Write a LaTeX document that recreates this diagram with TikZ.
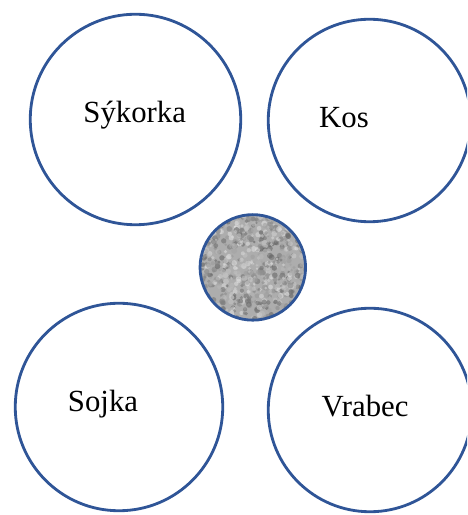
\documentclass[tikz,border=0pt]{standalone}
\usepackage{fontspec}
\setmainfont{Liberation Serif}
\definecolor{ringblue}{HTML}{2F5597}
\begin{document}
\begin{tikzpicture}[
    bird/.style={circle, draw=ringblue, line width=1.6pt, inner sep=0pt},
    birdname/.style={font=\fontsize{17.5}{20}\selectfont, anchor=base, inner sep=0pt}
]
    \useasboundingbox (0,0) rectangle (9.34,10.3);
    \clip (0,0) rectangle (9.34,10.3);

    \node[bird, minimum size=4.21cm] (sykorka) at (2.71,7.91) {};
    \node[bird, minimum size=4.05cm] (kos)     at (7.39,7.89) {};
    \node[bird, minimum size=4.15cm] (sojka)   at (2.38,2.16) {};
    \node[bird, minimum size=4.07cm] (vrabec)  at (7.40,2.10) {};

    % grainy middle disc
    \begin{scope}
        \clip (5.056,4.952) circle (1.06);
        \fill[black!32] (5.056,4.952) circle (1.06);
        \pgfmathsetseed{42}
        \foreach \i in {1,...,900}{
            \pgfmathsetmacro{\px}{5.056+2.2*(rnd-0.5)}
            \pgfmathsetmacro{\py}{4.952+2.2*(rnd-0.5)}
            \pgfmathsetmacro{\sh}{int(12+50*rnd)}
            \pgfmathsetmacro{\rr}{0.025+0.035*rnd}
            \fill[black!\sh, opacity=0.6] (\px,\py) circle (\rr);
        }
    \end{scope}
    \node[bird, minimum size=2.11cm] (seed) at (5.056,4.952) {};

    \node[birdname] (lsykorka) at (2.694,7.846) {Sýkorka};
    \node[birdname] (lkos)     at (6.88,7.754)  {Kos};
    \node[birdname] (lsojka)   at (2.06,2.066)  {Sojka};
    \node[birdname] (lvrabec)  at (7.30,1.966)  {Vrabec};
\end{tikzpicture}
\end{document}
